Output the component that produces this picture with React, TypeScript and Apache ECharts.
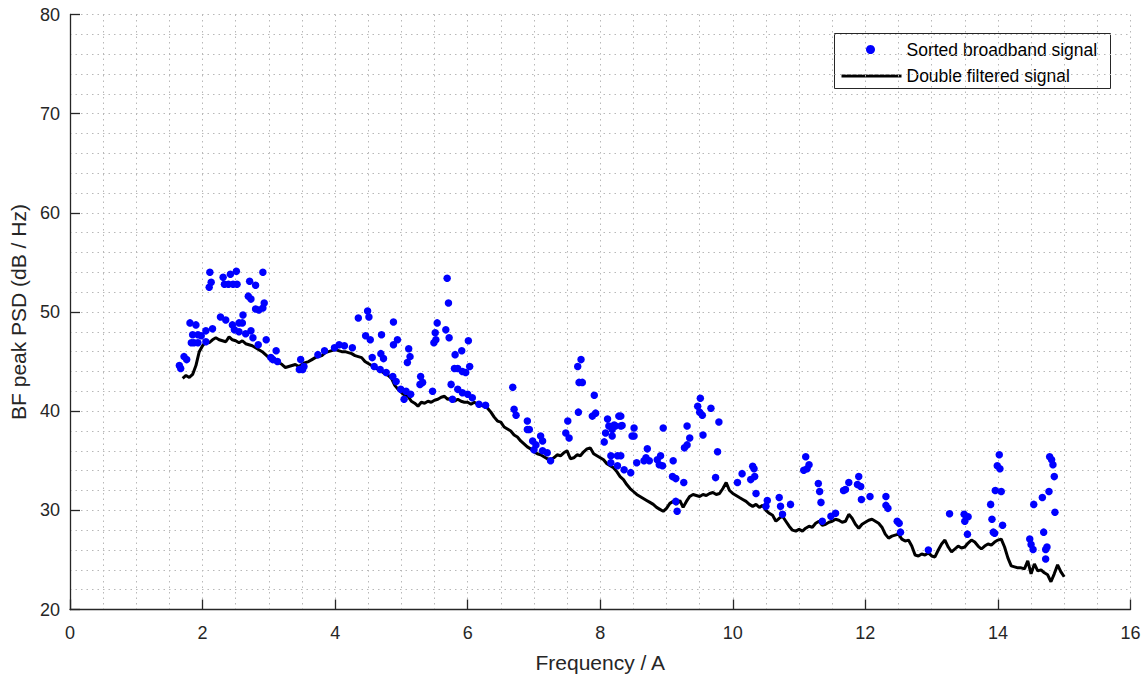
import React, { useEffect, useRef } from "react";
import * as echarts from "echarts";

// Double filtered signal (black line)
const lineX = [
  1.7, 1.75, 1.8, 1.85, 1.9, 1.95, 2.0, 2.05, 2.1, 2.15, 2.2, 2.25, 2.3, 2.35, 2.4, 2.45, 2.5, 2.55, 2.6, 2.65,
  2.7, 2.75, 2.8, 2.85, 2.9, 2.95, 3.0, 3.05, 3.1, 3.15, 3.2, 3.25, 3.3, 3.35, 3.4, 3.45, 3.5, 3.55, 3.6, 3.65,
  3.7, 3.75, 3.8, 3.85, 3.9, 3.95, 4.0, 4.05, 4.1, 4.15, 4.2, 4.25, 4.3, 4.35, 4.4, 4.45, 4.5, 4.55, 4.6, 4.65,
  4.7, 4.75, 4.8, 4.85, 4.9, 4.95, 5.0, 5.05, 5.1, 5.15, 5.2, 5.25, 5.3, 5.35, 5.4, 5.45, 5.5, 5.55, 5.6, 5.65,
  5.7, 5.75, 5.8, 5.85, 5.9, 5.95, 6.0, 6.05, 6.1, 6.15, 6.2, 6.25, 6.3, 6.35, 6.4, 6.45, 6.5, 6.55, 6.6, 6.65,
  6.7, 6.75, 6.8, 6.85, 6.9, 6.95, 7.0, 7.05, 7.1, 7.15, 7.2, 7.25, 7.3, 7.35, 7.4, 7.45, 7.5, 7.55, 7.6, 7.65,
  7.7, 7.75, 7.8, 7.85, 7.9, 7.95, 8.0, 8.05, 8.1, 8.15, 8.2, 8.25, 8.3, 8.35, 8.4, 8.45, 8.5, 8.55, 8.6, 8.65,
  8.7, 8.75, 8.8, 8.85, 8.9, 8.95, 9.0, 9.05, 9.1, 9.15, 9.2, 9.25, 9.3, 9.35, 9.4, 9.45, 9.5, 9.55, 9.6, 9.65,
  9.7, 9.75, 9.8, 9.85, 9.9, 9.95, 10.0, 10.05, 10.1, 10.15, 10.2, 10.25, 10.3, 10.35, 10.4, 10.45, 10.5, 10.55, 10.6, 10.65,
  10.7, 10.75, 10.8, 10.85, 10.9, 10.95, 11.0, 11.05, 11.1, 11.15, 11.2, 11.25, 11.3, 11.35, 11.4, 11.45, 11.5, 11.55, 11.6, 11.65,
  11.7, 11.75, 11.8, 11.85, 11.9, 11.95, 12.0, 12.05, 12.1, 12.15, 12.2, 12.25, 12.3, 12.35, 12.4, 12.45, 12.5, 12.55, 12.6, 12.65,
  12.7, 12.75, 12.8, 12.85, 12.9, 12.95, 13.0, 13.05, 13.1, 13.15, 13.2, 13.25, 13.3, 13.35, 13.4, 13.45, 13.5, 13.55, 13.6, 13.65,
  13.7, 13.75, 13.8, 13.85, 13.9, 13.95, 14.0, 14.05, 14.1, 14.15, 14.2, 14.25, 14.3, 14.35, 14.4, 14.45, 14.5, 14.55, 14.6, 14.65,
  14.7, 14.75, 14.8, 14.85, 14.9, 14.95, 15.0,
];
const lineY = [
  43.3, 43.6, 43.4, 43.7, 44.6, 46.0, 46.6, 47.0, 46.9, 47.2, 47.4, 47.2, 47.1, 47.0, 47.5, 47.2, 47.1, 46.9, 47.1, 46.8,
  46.7, 46.6, 46.4, 46.2, 46.0, 45.7, 45.4, 45.3, 45.0, 44.9, 44.7, 44.4, 44.5, 44.6, 44.7, 44.5, 44.7, 44.9, 45.0, 45.2,
  45.4, 45.5, 45.6, 45.9, 46.0, 46.1, 46.2, 46.1, 46.0, 46.0, 45.9, 45.8, 45.6, 45.5, 45.4, 45.0, 44.8, 44.6, 44.4, 44.2,
  44.0, 43.8, 43.6, 43.3, 42.6, 42.2, 41.9, 41.6, 41.5, 41.0, 40.8, 40.5, 40.9, 40.8, 41.0, 40.9, 41.1, 41.2, 41.4, 41.5,
  41.2, 41.3, 41.0, 41.2, 41.0, 40.9, 40.9, 40.7, 40.9, 40.7, 40.6, 40.5, 40.3, 39.9, 39.4, 39.0, 38.9, 38.4, 38.2, 38.0,
  37.6, 37.4, 37.0, 36.7, 36.4, 36.2, 35.9, 35.7, 35.6, 35.4, 35.2, 35.1, 35.3, 35.6, 35.5, 35.8, 36.0, 35.2, 35.3, 35.6,
  35.5, 35.9, 36.2, 36.3, 35.7, 35.5, 35.3, 35.1, 34.7, 34.5, 34.3, 33.9, 33.4, 33.1, 32.6, 32.2, 31.9, 31.6, 31.4, 31.2,
  31.0, 30.8, 30.6, 30.3, 30.1, 29.9, 30.2, 30.7, 30.9, 30.6, 31.0, 30.3, 30.9, 31.4, 31.6, 31.5, 31.4, 31.6, 31.5, 31.7,
  31.8, 31.6, 31.7, 32.2, 32.8, 32.0, 31.7, 31.5, 31.3, 31.1, 30.9, 30.6, 30.4, 30.6, 30.3, 30.5, 30.0, 29.7, 29.5, 28.9,
  29.2, 29.4, 28.9, 28.4, 28.0, 27.9, 28.1, 27.9, 28.2, 28.4, 28.3, 28.7, 28.9, 28.5, 28.6, 28.8, 28.9, 29.1, 29.0, 28.8,
  28.9, 29.6, 29.2, 28.6, 28.2, 28.6, 28.8, 29.0, 29.1, 28.9, 28.7, 28.3, 27.6, 27.2, 27.4, 27.5, 27.6, 27.1, 26.9, 27.0,
  26.4, 25.5, 25.4, 25.6, 25.5, 25.7, 25.4, 25.3, 26.0, 26.6, 27.0, 26.3, 25.8, 26.1, 26.4, 26.2, 26.3, 26.7, 27.0, 26.8,
  26.4, 26.1, 26.4, 26.6, 26.5, 26.8, 27.0, 27.1, 26.3, 25.2, 24.4, 24.3, 24.2, 24.2, 24.1, 24.9, 23.6, 24.6, 23.9, 24.0,
  23.7, 23.5, 22.8, 23.6, 24.5, 23.8, 23.3,
];

// Sorted broadband signal (blue dots)
const scatterX = [
  1.65, 1.67, 1.72, 1.76, 1.81, 1.9, 1.85, 1.93, 1.98, 1.83, 1.87, 1.93, 2.05, 2.15, 2.05, 2.11, 2.13, 2.1, 2.31, 2.42,
  2.51, 2.33, 2.39, 2.46, 2.52, 2.91, 2.71, 2.8, 2.69, 2.73, 2.8, 2.85, 2.93, 2.91, 2.27, 2.35, 2.45, 2.48, 2.55, 2.6,
  2.61, 2.55, 2.65, 2.73, 2.76, 2.84, 2.96, 3.11, 3.06, 3.13, 3.03, 3.48, 3.51, 3.46, 3.53, 3.74, 3.84, 3.99, 4.06, 4.14,
  4.26, 4.35, 4.49, 4.51, 4.46, 4.53, 4.7, 4.88, 4.56, 4.69, 4.73, 4.59, 4.68, 4.77, 4.87, 4.88, 4.94, 5.11, 5.13, 5.09,
  4.92, 4.99, 5.07, 5.14, 5.04, 5.29, 5.32, 5.28, 5.47, 5.52, 5.51, 5.54, 5.49, 5.67, 5.72, 5.69, 5.71, 5.81, 5.91, 6.01,
  5.8, 5.85, 5.92, 5.97, 6.03, 5.75, 5.85, 5.92, 6.0, 6.07, 5.77, 6.17, 6.27, 6.68, 6.7, 6.73, 6.9, 6.9, 6.93, 6.98,
  7.1, 7.13, 7.03, 7.0, 7.13, 7.2, 7.25, 7.51, 7.48, 7.53, 7.66, 7.71, 7.68, 7.73, 7.67, 7.91, 7.88, 7.93, 8.11, 8.08,
  8.06, 8.13, 8.18, 8.23, 8.28, 8.16, 8.26, 8.26, 8.21, 8.31, 8.18, 8.16, 8.36, 8.46, 8.31, 8.33, 8.31, 8.51, 8.51, 8.48,
  8.55, 8.71, 8.69, 8.74, 8.66, 8.86, 8.91, 8.89, 8.94, 8.95, 9.1, 9.09, 9.14, 9.26, 9.16, 9.14, 9.31, 9.27, 9.31, 9.35,
  9.51, 9.47, 9.5, 9.54, 9.67, 9.55, 9.79, 9.77, 9.74, 10.07, 10.14, 10.3, 10.32, 10.27, 10.33, 10.35, 10.52, 10.7, 10.72, 10.87,
  10.75, 10.5, 11.1, 11.15, 11.12, 11.07, 11.29, 11.31, 11.33, 11.35, 11.48, 11.55, 11.67, 11.75, 11.9, 11.88, 11.93, 11.7, 11.94, 12.07,
  12.31, 12.31, 12.34, 12.48, 12.51, 12.53, 12.95, 13.27, 13.49, 13.55, 13.5, 13.54, 13.89, 13.91, 13.93, 13.95, 14.07, 13.96, 14.05, 13.99,
  14.03, 14.02, 14.48, 14.5, 14.53, 14.54, 14.67, 14.77, 14.86, 14.69, 14.72, 14.74, 14.72, 14.78, 14.81, 14.83, 14.85,
];
const scatterY = [
  44.6, 44.3, 45.5, 45.2, 48.9, 48.7, 47.7, 47.7, 47.6, 46.9, 46.9, 46.9, 48.1, 48.3, 47.0, 54.0, 53.0, 52.5, 53.5, 53.8,
  54.1, 52.8, 52.8, 52.8, 52.8, 54.0, 53.1, 52.7, 51.6, 51.3, 50.3, 50.2, 50.9, 50.4, 49.5, 49.2, 48.7, 48.2, 48.9, 48.9,
  49.7, 48.0, 47.8, 48.1, 47.4, 46.7, 47.2, 46.1, 45.2, 45.0, 45.4, 45.2, 44.2, 44.2, 44.5, 45.7, 46.1, 46.4, 46.7, 46.6,
  46.4, 49.4, 50.1, 49.5, 47.6, 47.2, 47.7, 49.0, 45.4, 45.8, 45.3, 44.5, 44.2, 43.9, 43.5, 46.7, 47.2, 46.3, 45.5, 44.9,
  43.0, 42.2, 42.0, 41.7, 41.2, 43.5, 42.9, 42.7, 42.0, 47.2, 47.9, 48.9, 46.9, 48.2, 47.4, 53.4, 50.9, 45.7, 46.1, 47.1,
  44.3, 44.3, 44.0, 43.9, 44.5, 42.7, 42.2, 41.85, 41.7, 41.35, 41.2, 40.7, 40.6, 42.4, 40.2, 39.6, 39.0, 38.15, 38.15, 37.0,
  37.5, 37.0, 36.6, 36.1, 36.0, 35.8, 35.0, 39.0, 37.8, 37.3, 44.5, 45.2, 42.9, 42.9, 39.9, 41.6, 39.5, 39.8, 39.2, 37.8,
  36.9, 38.5, 38.15, 38.5, 39.5, 35.5, 35.5, 34.5, 38.6, 38.5, 37.5, 34.8, 34.1, 33.8, 39.5, 38.55, 35.5, 38.3, 37.5, 37.5,
  34.8, 36.2, 35.3, 35.0, 35.0, 35.1, 35.5, 34.6, 34.5, 38.3, 35.0, 33.4, 33.2, 32.8, 29.9, 30.9, 38.5, 36.3, 36.6, 37.3,
  41.3, 40.5, 39.9, 39.6, 40.3, 37.6, 38.9, 35.9, 33.3, 32.8, 33.7, 34.45, 34.2, 33.1, 33.4, 31.7, 31.0, 31.3, 30.4, 30.6,
  29.6, 30.4, 35.4, 34.6, 34.2, 34.05, 32.7, 31.9, 30.8, 28.9, 29.4, 29.7, 32.0, 32.8, 33.4, 32.6, 32.4, 32.1, 31.1, 31.4,
  31.4, 30.5, 30.2, 28.9, 28.7, 27.8, 26.0, 29.65, 29.6, 29.35, 28.9, 27.6, 30.6, 29.1, 27.8, 27.7, 28.5, 32.0, 31.9, 34.5,
  34.2, 35.6, 27.1, 26.55, 26.05, 30.6, 31.3, 31.9, 29.8, 27.8, 26.05, 26.3, 25.1, 35.4, 35.1, 34.6, 33.4,
];

const xTicks = { min: 0, max: 16, interval: 2 };
const yTicks = { min: 20, max: 80, interval: 10 };
const legendLabels = ["Sorted broadband signal", "Double filtered signal"];

const FONT = "'Liberation Sans', Arial, Helvetica, sans-serif";
const DARK = "#262626";
const GRID_STYLE = { color: "#b8b8b8", width: 1, type: [1.5, 4] as any };

export default function App() {
  const ref = useRef<HTMLDivElement>(null);

  useEffect(() => {
    if (!ref.current) return;
    const chart = echarts.init(ref.current, null, { renderer: "svg" });
    const scatterData = scatterX.map((x, i) => [x, scatterY[i]]);
    const lineData = lineX.map((x, i) => [x, lineY[i]]);

    const axisCommon = {
      type: "value" as const,
      axisLine: { show: true, onZero: false, lineStyle: { color: DARK, width: 1.3 } },
      axisTick: { show: true, inside: true, length: 10, lineStyle: { color: DARK, width: 1.3 } },
      splitLine: { show: true, lineStyle: GRID_STYLE },
      minorSplitLine: { show: true, lineStyle: GRID_STYLE },
      nameTextStyle: { fontFamily: FONT, fontSize: 21, color: DARK },
    };

    chart.setOption({
      animation: false,
      backgroundColor: "#ffffff",
      grid: { left: 70, right: 15.5, top: 14.5, bottom: 68.5, containLabel: false },
      xAxis: {
        ...axisCommon,
        min: xTicks.min,
        max: xTicks.max,
        interval: xTicks.interval,
        minorTick: { show: false, splitNumber: 4 },
        name: "Frequency / A",
        nameLocation: "middle",
        nameGap: 42,
        axisLabel: { fontFamily: FONT, fontSize: 18, color: DARK, margin: 14 },
      },
      yAxis: {
        ...axisCommon,
        min: yTicks.min,
        max: yTicks.max,
        interval: yTicks.interval,
        minorTick: { show: false, splitNumber: 5 },
        name: "BF peak PSD (dB / Hz)",
        nameLocation: "middle",
        nameGap: 40,
        axisLabel: { fontFamily: FONT, fontSize: 18, color: DARK, margin: 10 },
      },
      series: [
        {
          name: legendLabels[1],
          type: "line",
          data: lineData,
          showSymbol: false,
          symbol: "none",
          lineStyle: { color: "#000000", width: 3 },
          z: 2,
        },
        {
          name: legendLabels[0],
          type: "scatter",
          data: scatterData,
          symbol: "circle",
          symbolSize: 7.5,
          itemStyle: { color: "#0000ff", opacity: 1 },
          z: 3,
        },
      ],
      graphic: [
        {
          type: "group",
          left: 834,
          top: 33,
          z: 100,
          children: [
            { type: "rect", shape: { x: 0, y: 0, width: 276, height: 55 }, style: { fill: "#ffffff", stroke: DARK, lineWidth: 1 } },
            { type: "circle", shape: { cx: 36, cy: 16, r: 4.5 }, style: { fill: "#0000ff" } },
            { type: "text", x: 72, y: 16, style: { text: legendLabels[0], font: `17.5px ${FONT}`, fill: "#000000", verticalAlign: "middle" } },
            { type: "line", shape: { x1: 7, y1: 42.5, x2: 67, y2: 42.5 }, style: { stroke: "#000000", lineWidth: 3 } },
            { type: "text", x: 72, y: 42.5, style: { text: legendLabels[1], font: `17.5px ${FONT}`, fill: "#000000", verticalAlign: "middle" } },
          ],
        },
      ],
    });
    return () => chart.dispose();
  }, []);

  return (
    <div
      ref={ref}
      style={{ position: "fixed", left: 0, top: 0, width: 1146, height: 678, background: "#fff" }}
    />
  );
}
